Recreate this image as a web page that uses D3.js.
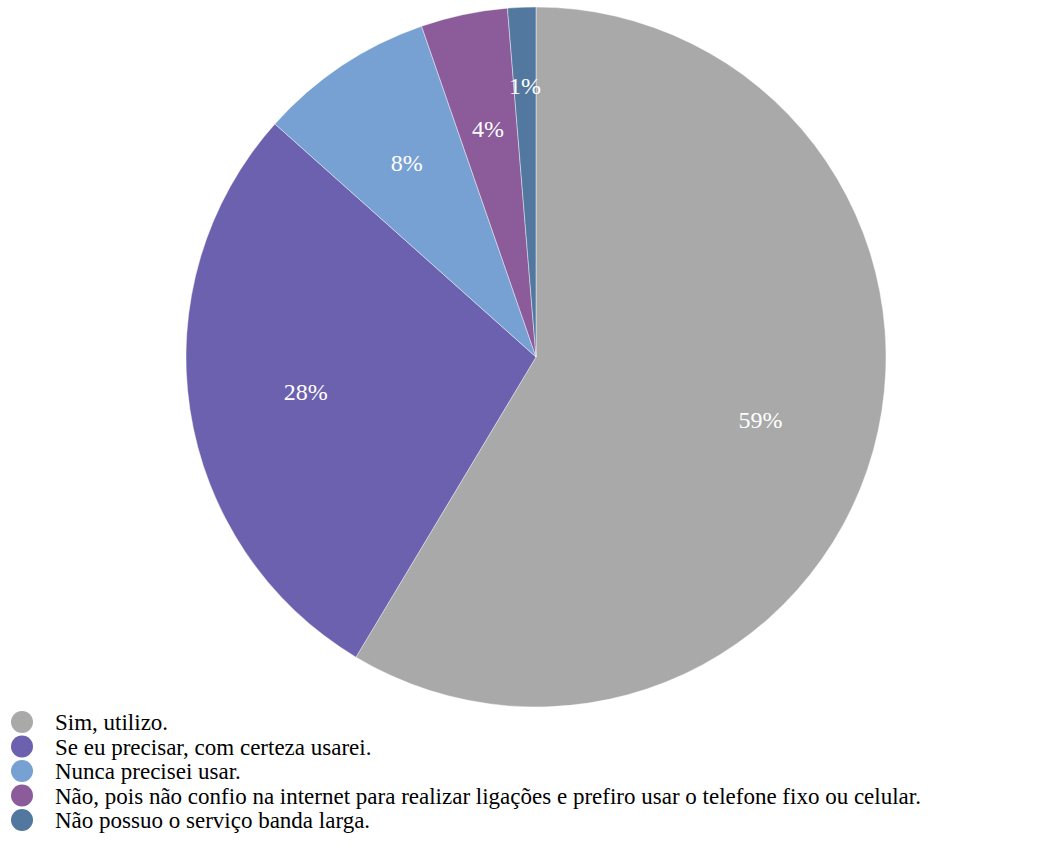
<!DOCTYPE html>
<html><head><meta charset="utf-8">
<script src="https://cdn.jsdelivr.net/npm/d3@7"></script>
</head><body style="margin:0;font-family:'Liberation Serif','Times New Roman',Tinos,serif">
<svg id="c" width="1061" height="852" font-family="Liberation Serif, Times New Roman, serif"></svg>
<script>
const categories = ["Sim, utilizo.","Se eu precisar, com certeza usarei.","Nunca precisei usar.","Não, pois não confio na internet para realizar ligações e prefiro usar o telefone fixo ou celular.","Não possuo o serviço banda larga."];
const values = [58.6, 28.0, 8.1, 4.0, 1.3];
const labels = ["59%","28%","8%","4%","1%"];
const colors = ["#A9A9A9","#6C61AF","#77A1D2","#8B5B9A","#53789F"];
const FONT = "'Liberation Serif','Times New Roman',Tinos,serif";

const svg = d3.select("#c").style("font-family",FONT);
const cx = 536, cy = 357, R = 350;
const pie = d3.pie().sort(null).value(d=>d)(values);
const arc = d3.arc().innerRadius(0).outerRadius(R);
const g = svg.append("g").attr("transform",`translate(${cx},${cy})`);
g.selectAll("path").data(pie).join("path")
  .attr("d",arc).attr("fill",(d,i)=>colors[i])
  .attr("stroke","#fff").attr("stroke-width",0.7).attr("stroke-opacity",0.6);
const lab = d3.arc().innerRadius(233).outerRadius(233);
const labOut = d3.arc().innerRadius(272).outerRadius(272);
g.selectAll("text").data(pie).join("text")
  .attr("transform",(d,i)=>`translate(${(i===4?labOut:lab).centroid(d)})`)
  .attr("text-anchor","middle").attr("dy","0.35em")
  .attr("fill","#fff").style("font-family",FONT).style("font-size","24px").text((d,i)=>labels[i]);

const lg = svg.append("g");
categories.forEach((c,i)=>{
  const y = 722 + i*24.5;
  lg.append("circle").attr("cx",22).attr("cy",y).attr("r",11).attr("fill",colors[i]);
  lg.append("text").attr("x",55).attr("y",y).attr("dy","0.35em")
    .style("font-family",FONT).style("font-size","23px").attr("fill","#000").text(c);
});
</script>
</body></html>
